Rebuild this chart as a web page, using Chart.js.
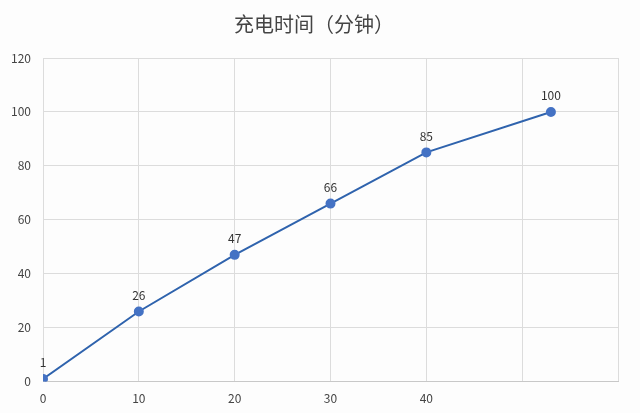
<!DOCTYPE html>
<html>
<head>
<meta charset="utf-8">
<script src="https://cdn.jsdelivr.net/npm/chart.js@4"></script>
<style>
  html,body{margin:0;padding:0;background:#fdfdfd;}
  #wrap{width:640px;height:413px;}
</style>
</head>
<body>
<div id="wrap"><canvas id="chart"></canvas></div>
<script>
// 充电时间（分钟） vs 电量 %
const minutes = [0, 10, 20, 30, 40, 53];
const percentValues = [1, 26, 47, 66, 85, 100];
const shownXTicks = [0, 10, 20, 30, 40];

const FONT = "'Noto Sans CJK SC', 'Liberation Sans', sans-serif";

// simple value labels above each point
const pointLabels = {
  id: "pointLabels",
  afterDatasetsDraw(chart){
    const ctx = chart.ctx;
    const meta = chart.getDatasetMeta(0);
    ctx.save();
    ctx.font = "12px " + FONT;
    ctx.fillStyle = "#333";
    ctx.textAlign = "center";
    ctx.textBaseline = "bottom";
    meta.data.forEach((pt,i)=>{
      ctx.fillText(String(percentValues[i]), pt.x, pt.y - 10);
    });
    ctx.restore();
  }
};

new Chart(document.getElementById("chart"),{
  type:"line",
  data:{
    datasets:[{
      data: minutes.map((m,i)=>({x:m, y:percentValues[i]})),
      borderColor:"#2f63ad",
      borderWidth:2,
      backgroundColor:"#4472c4",
      pointBackgroundColor:"#4472c4",
      pointBorderColor:"#4472c4",
      pointRadius:4,
      tension:0
    }]
  },
  options:{
    responsive:true,
    maintainAspectRatio:false,
    animation:false,
    layout:{padding:{left:10,right:22,top:12,bottom:-3}},
    plugins:{
      legend:{display:false},
      tooltip:{enabled:false},
      title:{
        display:true,
        text:"充电时间（分钟）",
        color:"#444",
        font:{family:FONT,size:20,weight:"normal"},
        padding:{top:0,bottom:22}
      }
    },
    scales:{
      x:{
        type:"linear",
        min:0,max:60,
        ticks:{
          stepSize:10,
          color:"#444",
          font:{family:FONT,size:12},
          padding:10,
          callback:v=>shownXTicks.includes(v) ? v : ""
        },
        grid:{color:"#dcdcdc",drawTicks:false},
        border:{color:"#c8c8c8"}
      },
      y:{
        min:0,max:120,
        ticks:{
          stepSize:20,
          color:"#444",
          font:{family:FONT,size:12},
          padding:12
        },
        grid:{color:"#dcdcdc",drawTicks:false},
        border:{display:false},
        afterFit(scale){ scale.width = 33; }
      }
    }
  },
  plugins:[pointLabels]
});
</script>
</body>
</html>
